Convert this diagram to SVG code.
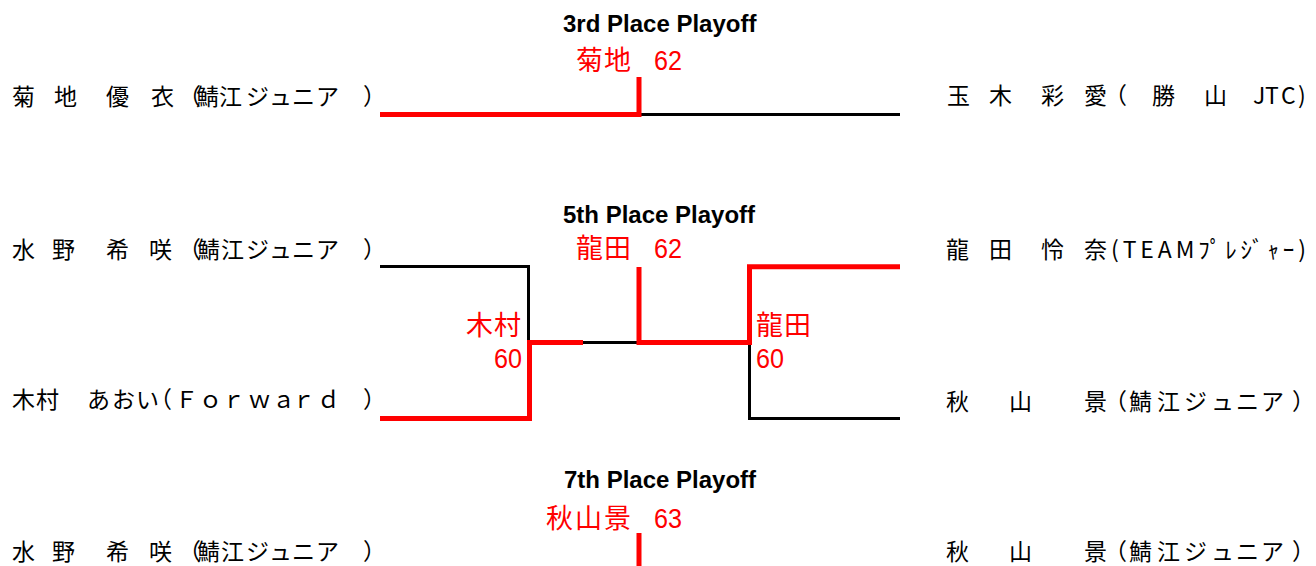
<svg xmlns="http://www.w3.org/2000/svg" width="1316" height="566" viewBox="0 0 1316 566">
<style>
.name{font-family:"Noto Sans CJK JP","Noto Sans CJK SC",sans-serif;font-size:23px;fill:#000}
.title{font-family:"Liberation Sans",Arial,sans-serif;font-size:24px;font-weight:bold;fill:#000}
.score{font-family:"Noto Sans CJK JP","Noto Sans CJK SC",sans-serif;font-size:27px;fill:#ff0000}
.num{font-family:"Liberation Sans",Arial,sans-serif;font-size:27px;fill:#ff0000}
.win{fill:none;stroke:#ff0000;stroke-width:5;stroke-linejoin:miter;stroke-linecap:butt}
.lose{fill:none;stroke:#000;stroke-width:3;stroke-linejoin:miter;stroke-linecap:butt}
</style>
<rect width="1316" height="566" fill="#fff"/>
<g id="connectors">
  <path class="lose" d="M639 114.5 H900"/>
  <path class="win" d="M380 114.5 H639 V77"/>
  <path class="lose" d="M380 266.5 H528.5 V343"/>
  <path class="lose" d="M583 342.5 H639"/>
  <path class="lose" d="M749.5 342.5 V418.5 H900"/>
  <path class="win" d="M380 418.5 H529.5 V342.5 H583"/>
  <path class="win" d="M639 267 V342.5 H749.5 V266.8 H900"/>
  <path class="win" d="M639 533 V566"/>
</g>
<g id="title-3rd"><text class="title" x="563" y="32">3rd Place Playoff</text></g>
<g id="title-5th"><text class="title" x="563" y="223">5th Place Playoff</text></g>
<g id="title-7th"><text class="title" x="564" y="488">7th Place Playoff</text></g>
<g id="result-3rd"><text class="score" x="576 604" y="70">菊地</text><text class="num" x="654" y="70" textLength="28" lengthAdjust="spacingAndGlyphs">62</text></g>
<g id="result-5th"><text class="score" x="576 604" y="258">龍田</text><text class="num" x="654" y="258" textLength="28" lengthAdjust="spacingAndGlyphs">62</text></g>
<g id="result-7th"><text class="score" x="546 575 604" y="528">秋山景</text><text class="num" x="654" y="528" textLength="28" lengthAdjust="spacingAndGlyphs">63</text></g>
<g id="result-5th-semi1"><text class="score" x="466 494" y="335">木村</text><text class="num" x="494" y="368" textLength="28" lengthAdjust="spacingAndGlyphs">60</text></g>
<g id="result-5th-semi2"><text class="score" x="756 784" y="335">龍田</text><text class="num" x="756" y="368" textLength="28" lengthAdjust="spacingAndGlyphs">60</text></g>
<g id="p-kikuchi"><text class="name" x="12 35 54 77 106 129 151 178 196 219 246 269 292 316 363" y="105">菊 地　優 衣（鯖江ジュニア）</text></g>
<g id="p-tamaki"><text class="name" x="947 970 989 1012 1041 1064 1084 1104 1127 1152 1175 1204 1227 1253 1265 1281 1298" y="104">玉 木　彩 愛（　勝　山　JTC)</text></g>
<g id="p-mizuno-5"><text class="name" x="12 35 52 75 106 129 149 178 197 221 246 269 292 316 363" y="258">水 野　希 咲（鯖江ジュニア）</text></g>
<g id="p-tatsuta"><text class="name" x="946 969 989 1012 1041 1064 1084" y="258">龍 田　怜 奈</text><text class="name" x="1111" y="258" textLength="195" lengthAdjust="spacing">(TEAMﾌﾟﾚｼﾞｬｰ)</text></g>
<g id="p-kimura"><text class="name" x="12 36 60 87 112 136 149 175 199 222 248 272 292 317 363" y="408">木村　あおい（Ｆｏｒｗａｒｄ）</text></g>
<g id="p-akiyama-5"><text class="name" x="946 969 1009 1032 1084 1104 1129 1157 1184 1211 1236 1261 1292" y="410">秋　山　景（鯖江ジュニア）</text></g>
<g id="p-mizuno-7"><text class="name" x="12 35 52 75 106 129 149 178 197 221 246 269 292 316 363" y="560">水 野　希 咲（鯖江ジュニア）</text></g>
<g id="p-akiyama-7"><text class="name" x="946 969 1009 1032 1084 1104 1129 1157 1184 1211 1236 1261 1292" y="560">秋　山　景（鯖江ジュニア）</text></g>
</svg>
